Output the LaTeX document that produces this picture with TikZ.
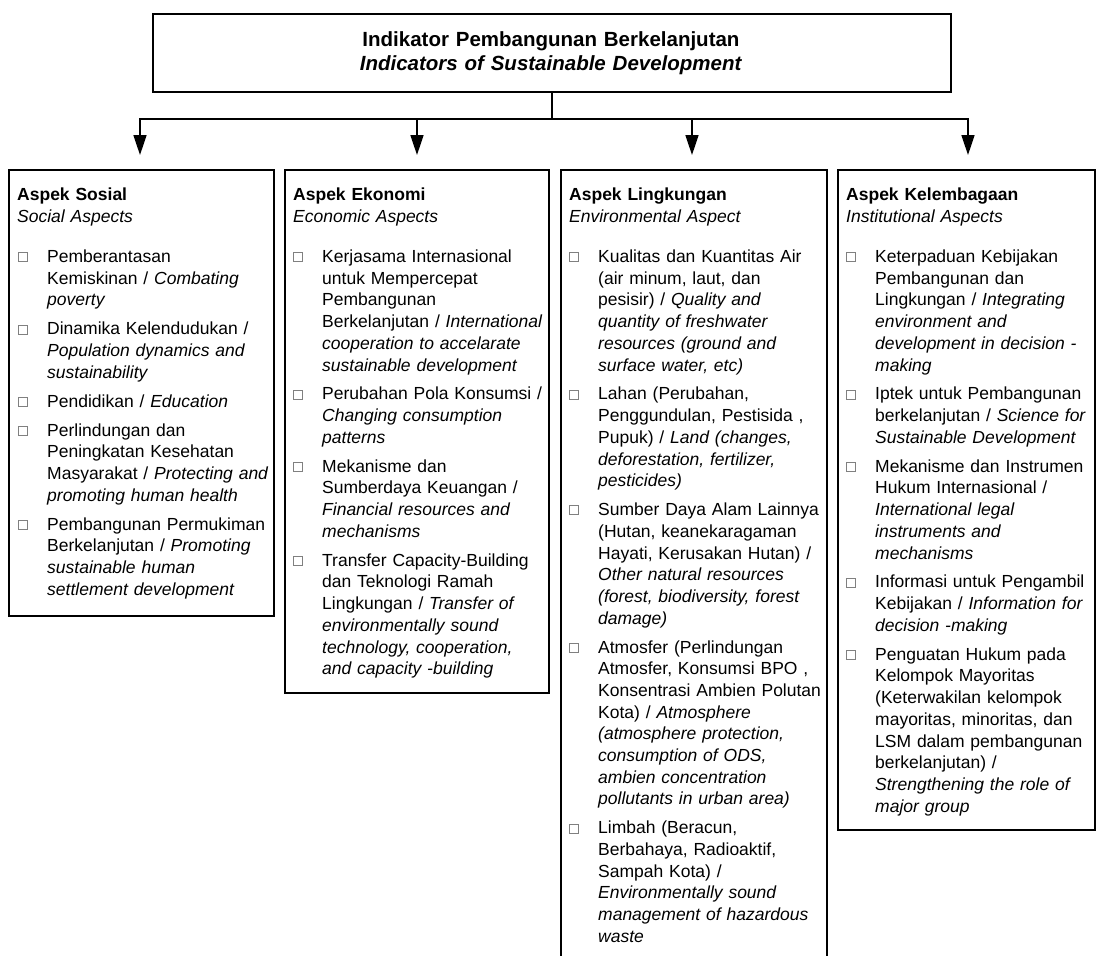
\documentclass[tikz,border=0pt]{standalone}
\usepackage{fontspec}
\setmainfont{Liberation Sans}
\usetikzlibrary{arrows.meta,positioning,shadows}
\tikzset{
  itm/.style={inner sep=0pt, text width=252pt, align=left, font=\fontsize{17.5}{21.7}\selectfont},
  cbox/.style={draw=black!50, line width=0.7pt},
  asp/.style={inner sep=0pt, text width=240pt, align=left, anchor=base west, font=\fontsize{17.5}{21.7}\selectfont},
  panel/.style={draw=black, line width=1.8pt, fill=white, inner sep=0pt, anchor=north west,
    drop shadow={shadow xshift=1.2pt, shadow yshift=-1.2pt, fill=black, opacity=1}},
  topbox/.style={draw=black, line width=1.8pt, fill=white, inner sep=0pt, anchor=north west},
  toptext/.style={inner sep=0pt, text width=760pt, align=center, anchor=base, font=\fontsize{20.5}{24}\selectfont\bfseries},
  conn/.style={line width=1.7pt},
  arrowdown/.style={conn, -{Triangle[length=20pt,width=13pt]}}
}
\newcommand{\firstitem}[3]{%
  \node[itm, anchor=base west] (#1) at #2 {\strut #3\strut};
  \draw[cbox] ([xshift=-28.5pt,yshift=0.8pt]#1.base west) rectangle ++(9pt,9pt);}
\newcommand{\nextitem}[3]{%
  \node[itm, below=6.8pt of #2] (#1) {\strut #3\strut};
  \draw[cbox] ([xshift=-28.5pt,yshift=0.8pt]#1.base west) rectangle ++(9pt,9pt);}
\begin{document}
\begin{tikzpicture}[x=1pt,y=1pt]
\useasboundingbox (0,0) rectangle (1096,-956);
\clip (0,0) rectangle (1096,-956);
\fill[white] (0,0) rectangle (1096,-956);

% top box
\node[topbox, minimum width=798pt, minimum height=78pt] (top) at (152,-13) {};
\node[toptext] (toptxt) at (551,-46.5) {Indikator Pembangunan Berkelanjutan\\\textit{Indicators of Sustainable Development}};

% connectors
\path (top.south) ++(0,-26) coordinate (hub);
\coordinate (t1) at (140,-155);
\coordinate (t2) at (417,-155);
\coordinate (t3) at (692,-155);
\coordinate (t4) at (968,-155);
\draw[conn] (top.south) -- (hub);
\draw[arrowdown] (hub) -| (t1);
\draw[arrowdown] (hub) -| (t2);
\draw[arrowdown] (hub) -| (t3);
\draw[arrowdown] (hub) -| (t4);

% panels
\node[panel, minimum width=265pt, minimum height=446pt] (b1) at (8,-169) {};
\node[panel, minimum width=264pt, minimum height=523pt] (b2) at (284,-169) {};
\node[panel, minimum width=266pt, minimum height=830pt] (b3) at (560,-169) {};
\node[panel, minimum width=257pt, minimum height=660pt] (b4) at (837,-169) {};

% panel titles
\node[asp] (h1) at (17,-200.5) {\textbf{Aspek Sosial}\\\textit{Social Aspects}};
\node[asp] (h2) at (293,-200.5) {\textbf{Aspek Ekonomi}\\\textit{Economic Aspects}};
\node[asp] (h3) at (569,-200.5) {\textbf{Aspek Lingkungan}\\\textit{Environmental Aspect}};
\node[asp] (h4) at (846,-200.5) {\textbf{Aspek Kelembagaan}\\\textit{Institutional Aspects}};

% panel 1
\firstitem{a1}{(47,-262.5)}{Pemberantasan\\Kemiskinan / \textit{Combating}\\\textit{poverty}}
\nextitem{a2}{a1}{Dinamika Kelendudukan /\\\textit{Population dynamics and}\\\textit{sustainability}}
\nextitem{a3}{a2}{Pendidikan / \textit{Education}}
\nextitem{a4}{a3}{Perlindungan dan\\Peningkatan Kesehatan\\Masyarakat / \textit{Protecting and}\\\textit{promoting human health}}
\nextitem{a5}{a4}{Pembangunan Permukiman\\Berkelanjutan / \textit{Promoting}\\\textit{sustainable human}\\\textit{settlement development}}

% panel 2
\firstitem{e1}{(322,-262.5)}{Kerjasama Internasional\\untuk Mempercepat\\Pembangunan\\Berkelanjutan / \textit{International}\\\textit{cooperation to accelarate}\\\textit{sustainable development}}
\nextitem{e2}{e1}{Perubahan Pola Konsumsi /\\\textit{Changing consumption}\\\textit{patterns}}
\nextitem{e3}{e2}{Mekanisme dan\\Sumberdaya Keuangan /\\\textit{Financial resources and}\\\textit{mechanisms}}
\nextitem{e4}{e3}{Transfer Capacity-Building\\dan Teknologi Ramah\\Lingkungan / \textit{Transfer of}\\\textit{environmentally sound}\\\textit{technology, cooperation,}\\\textit{and capacity -building}}

% panel 3
\firstitem{l1}{(598,-262.5)}{Kualitas dan Kuantitas Air\\(air minum, laut, dan\\pesisir) / \textit{Quality and}\\\textit{quantity of freshwater}\\\textit{resources (ground and}\\\textit{surface water, etc)}}
\nextitem{l2}{l1}{Lahan (Perubahan,\\Penggundulan, Pestisida ,\\Pupuk) / \textit{Land (changes,}\\\textit{deforestation, fertilizer,}\\\textit{pesticides)}}
\nextitem{l3}{l2}{Sumber Daya Alam Lainnya\\(Hutan, keanekaragaman\\Hayati, Kerusakan Hutan) /\\\textit{Other natural resources}\\\textit{(forest, biodiversity, forest}\\\textit{damage)}}
\nextitem{l4}{l3}{Atmosfer (Perlindungan\\Atmosfer, Konsumsi BPO ,\\Konsentrasi Ambien Polutan\\Kota) / \textit{Atmosphere}\\\textit{(atmosphere protection,}\\\textit{consumption of ODS,}\\\textit{ambien concentration}\\\textit{pollutants in urban area)}}
\nextitem{l5}{l4}{Limbah (Beracun,\\Berbahaya, Radioaktif,\\Sampah Kota) /\\\textit{Environmentally sound}\\\textit{management of hazardous}\\\textit{waste}}

% panel 4
\firstitem{k1}{(875,-262.5)}{Keterpaduan Kebijakan\\Pembangunan dan\\Lingkungan / \textit{Integrating}\\\textit{environment and}\\\textit{development in decision -}\\\textit{making}}
\nextitem{k2}{k1}{Iptek untuk Pembangunan\\berkelanjutan / \textit{Science for}\\\textit{Sustainable Development}}
\nextitem{k3}{k2}{Mekanisme dan Instrumen\\Hukum Internasional /\\\textit{International legal}\\\textit{instruments and}\\\textit{mechanisms}}
\nextitem{k4}{k3}{Informasi untuk Pengambil\\Kebijakan / \textit{Information for}\\\textit{decision -making}}
\nextitem{k5}{k4}{Penguatan Hukum pada\\Kelompok Mayoritas\\(Keterwakilan kelompok\\mayoritas, minoritas, dan\\LSM dalam pembangunan\\berkelanjutan) /\\\textit{Strengthening the role of}\\\textit{major group}}
\end{tikzpicture}
\end{document}
